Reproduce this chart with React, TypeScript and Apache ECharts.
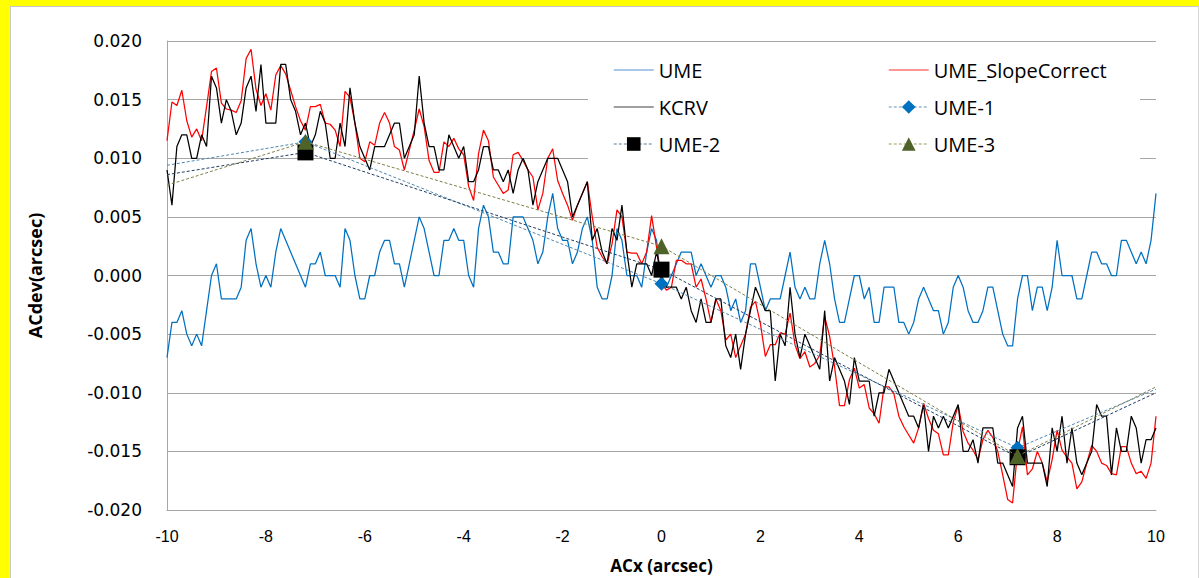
import React, { useEffect, useRef } from "react";
import * as echarts from "echarts";

// Sampling grid of the scan along ACx (arcsec)
const X_START = -10;
const X_STEP = 0.1;
const SAMPLE_COUNT = 201;

// Deviations in milli-arcsec, one value per sample
const umeMilli = [
  -7, -4, -4, -3, -5, -6, -5, -6, -3, 0, 1, -2, -2, -2, -2, -1, 3, 4, 1, -1,
  0, -1, 2, 4, 3, 2, 1, 0, -1, 1, 1, 2, 0, 0, 0, -1, 4, 3, 0, -2,
  -2, 0, 0, 2, 3, 3, 1, 1, -1, 1, 3, 5, 4, 2, 0, 0, 3, 3, 4, 3,
  3, 0, -1, 4, 6, 5, 2, 2, 1, 1, 5, 5, 5, 4, 3, 1, 2, 5, 7, 4,
  3, 3, 1, 2, 4, 5, 3, -1, -2, -2, 0, 4, 3, 0, 0, 0, -1, 2, 4, 3,
  -1, -1, 0, 1, 2, 2, 2, 0, 1, 0, -1, 0, 0, -1, -3, -2, -4, -3, 1, 1,
  -1, -3, -2, -2, -2, 0, 2, -1, -2, -1, -2, -2, 1, 3, 1, -2, -4, -4, -2, 0,
  0, -2, -1, -4, -4, -1, -1, -1, -4, -4, -5, -4, -2, -1, -2, -3, -3, -5, -4, -1,
  0, -1, -3, -4, -4, -3, -1, -1, -3, -5, -6, -6, -2, 0, 0, -3, -1, -1, -3, -1,
  3, 0, 0, 0, -2, -2, 0, 2, 2, 1, 1, 0, 0, 3, 3, 2, 1, 2, 1, 3,
  7,
];

const slopeCorrectMilli = [
  11.5, 14.8, 14.5, 15.8, 13.2, 11.8, 12.5, 11.5, 14.4, 17.4, 17.7, 14.7, 14.2, 14.1, 13.9, 14.9, 18.5, 19.3, 15.9, 14.5,
  15.5, 14.1, 17.1, 17.9, 17.2, 15.8, 14.4, 13.2, 12.4, 14.4, 14.4, 14.6, 13.0, 12.9, 12.4, 11.0, 15.7, 15.2, 13.0, 10.0,
  9.7, 11.4, 11.1, 13.0, 13.9, 13.0, 11.0, 10.7, 9.0, 10.7, 12.4, 14.2, 12.7, 9.8, 8.8, 8.8, 11.4, 11.0, 11.7, 10.8,
  10.3, 7.6, 6.4, 10.4, 12.4, 11.5, 8.4, 7.7, 7.0, 7.3, 10.3, 10.5, 9.8, 9.0, 8.4, 5.6, 7.0, 10.0, 10.8, 8.1,
  7.0, 6.0, 4.7, 6.0, 7.0, 8.0, 5.0, 2.4, 1.6, 1.0, 2.7, 5.6, 5.0, 2.0, 1.9, 1.9, 1.0, 2.0, 5.1, 2.4,
  -0.7, -1.25, -1.0, 1.3, 1.3, 1.0, 1.0, -1.0, -0.3, -2.0, -4.0, -2.0, -3.0, -5.5, -5.0, -7.0, -6.0, -5.0, -2.7, -2.2,
  -4.1, -6.9, -5.9, -5.9, -4.9, -5.0, -3.2, -5.9, -7.1, -6.5, -7.8, -7.5, -6.8, -3.5, -5.2, -7.8, -11.1, -11.1, -8.9, -7.9,
  -9.6, -9.3, -11.3, -11.8, -12.6, -9.5, -9.5, -10.1, -12.0, -12.9, -13.6, -14.3, -13.0, -10.9, -12.2, -13.2, -13.5, -15.3, -15.3, -12.5,
  -11.1, -13.3, -14.3, -14.9, -15.7, -14.0, -13.2, -13.8, -15.0, -17.0, -19.1, -19.4, -15.0, -12.9, -17.0, -16.5, -15.0, -16.0, -17.6, -15.7,
  -13.2, -14.9, -15.5, -16.0, -18.2, -17.6, -16.0, -14.5, -15.0, -16.0, -16.2, -16.9, -17.0, -14.6, -14.6, -16.0, -16.9, -16.7, -17.3, -16.0,
  -12.0,
];

const kcrvMilli = [
  9, 6, 11, 12, 12, 10, 10, 12, 11, 17, 16, 13, 15, 14, 12, 13, 16, 17, 14, 18,
  13, 13, 13, 18, 18, 15, 14, 12, 13, 11, 12, 14, 13, 10, 10, 13, 11, 16, 13, 11,
  10, 9, 11, 11, 11, 12, 13, 13, 10, 11, 12, 17, 13, 11, 11, 9, 9, 12, 11, 10,
  11, 8, 8, 9, 11, 11, 9, 9, 8, 9, 7, 9, 10, 9, 6, 8, 9, 10, 10, 10,
  9, 8, 5, 6, 7, 8, 3, 4, 2, 1, 4, 3, 6, 2, -1, 1, 1, 1, 0, 2,
  0, -1, -1, -1, -2, -1, -3, -4, -2, -4, -4, -2, -2, -6, -7, -5, -8, -5, -3, -1,
  -2, -3, -3, -9, -5, -6, -1, -5, -7, -5, -6, -7, -8, -3, -9, -7, -8, -9, -11, -7,
  -9, -9, -9, -12, -10, -10, -8, -9, -10, -11, -12, -12, -13, -11, -15, -12, -13, -12, -13, -12,
  -11, -15, -15, -14, -16, -13, -13, -13, -16, -16, -17, -18, -13, -12, -16, -16, -16, -16, -18, -13,
  -15, -12, -16, -13, -16, -17, -16, -15, -11, -12, -12, -17, -13, -15, -15, -12, -13, -16, -14, -14,
  -13,
];

// Fitted profiles: end points plus the three marked positions
const fitX = [-10, -7.2, 0, 7.2, 10];
const ume1Y = [0.0094, 0.0114, -0.0007, -0.0147, -0.0097];
const ume2Y = [0.0086, 0.0105, 0.0005, -0.0155, -0.01];
const ume3Y = [0.0077, 0.0114, 0.0025, -0.0154, -0.0095];

const yTicks = { min: -0.02, max: 0.02, step: 0.005 };

const toPairs = (milli: number[]) =>
  milli.slice(0, SAMPLE_COUNT).map((v, i) => [
    Math.round((X_START + i * X_STEP) * 10) / 10,
    v / 1000,
  ]);

const fitPairs = (ys: number[]) =>
  fitX.map((x, i) => {
    const edge = i === 0 || i === fitX.length - 1;
    return edge ? { value: [x, ys[i]], symbol: "none" } : { value: [x, ys[i]] };
  });

const TEXT_FONT = "'Open Sans', 'Liberation Sans', sans-serif";

// Legend entries; plain lines hide the marker that ECharts adds to line icons
const plainEntry = (name: string, color: string) => ({
  name,
  itemStyle: { opacity: 0 },
  lineStyle: { color, width: 1.5 },
});
const markedEntry = (name: string, lineColor: string) => ({
  name,
  lineStyle: { color: lineColor, width: 1.5, type: [3, 2] },
});

export default function App() {
  const ref = useRef<HTMLDivElement>(null);

  useEffect(() => {
    document.body.style.margin = "0";
    if (!ref.current) return;
    const chart = echarts.init(ref.current, undefined, { renderer: "svg" });

    const legendText = {
      fontFamily: TEXT_FONT,
      fontSize: 20,
      color: "#000",
      lineHeight: 22,
    };
    const legendBase = {
      orient: "vertical",
      top: 59,
      padding: 0,
      itemWidth: 40,
      itemHeight: 17,
      itemGap: 15,
      textStyle: legendText,
    };

    chart.setOption({
      animation: false,
      backgroundColor: "transparent",
      grid: {
        left: 167,
        top: 41,
        width: 989,
        height: 469,
        containLabel: false,
        outerBoundsMode: "none",
      },
      graphic: [
        {
          type: "rect",
          z: 1,
          shape: { x: 588, y: 47, width: 552, height: 162 },
          style: { fill: "#ffffff" },
          silent: true,
        },
      ],
      legend: [
        {
          ...legendBase,
          left: 613,
          data: [
            plainEntry("UME", "#8db4e2"),
            plainEntry("KCRV", "#7f7f7f"),
            markedEntry("UME-2", "#8fa8c0"),
          ],
        },
        {
          ...legendBase,
          left: 888,
          data: [
            plainEntry("UME_SlopeCorrect", "#ff7373"),
            markedEntry("UME-1", "#9cb8cc"),
            markedEntry("UME-3", "#bdbd94"),
          ],
        },
      ],
      xAxis: {
        type: "value",
        min: -10,
        max: 10,
        interval: 2,
        name: "ACx (arcsec)",
        nameLocation: "middle",
        nameGap: 46,
        nameTextStyle: {
          fontFamily: TEXT_FONT,
          fontWeight: "bold",
          fontSize: 17,
          lineHeight: 18,
          color: "#000",
        },
        axisLine: { show: true, onZero: false, lineStyle: { color: "#a6a6a6", width: 1 } },
        axisTick: { show: false },
        splitLine: { show: false },
        axisLabel: {
          margin: 18,
          fontFamily: "'Liberation Sans Narrow', 'Liberation Sans', sans-serif",
          fontSize: 16,
          color: "#000",
        },
      },
      yAxis: {
        type: "value",
        min: yTicks.min,
        max: yTicks.max,
        interval: yTicks.step,
        name: "ACdev(arcsec)",
        nameLocation: "middle",
        nameGap: 123,
        nameRotate: 90,
        nameTextStyle: {
          fontFamily: TEXT_FONT,
          fontWeight: "bold",
          fontSize: 18,
          color: "#000",
        },
        axisLine: { show: true, onZero: false, lineStyle: { color: "#a6a6a6", width: 1 } },
        axisTick: { show: false },
        splitLine: { show: true, lineStyle: { color: "#a6a6a6", width: 1 } },
        axisLabel: {
          margin: 25,
          fontFamily: "'DejaVu Sans', sans-serif",
          fontSize: 17,
          color: "#000",
          formatter: (v: number) => v.toFixed(3),
        },
      },
      series: [
        {
          name: "UME",
          type: "line",
          data: toPairs(umeMilli),
          symbol: "none",
          lineStyle: { color: "#0070C0", width: 1.25 },
          itemStyle: { color: "#0070C0" },
          z: 2,
        },
        {
          name: "UME_SlopeCorrect",
          type: "line",
          data: toPairs(slopeCorrectMilli),
          symbol: "none",
          lineStyle: { color: "#FF0000", width: 1.25 },
          itemStyle: { color: "#FF0000" },
          z: 3,
        },
        {
          name: "KCRV",
          type: "line",
          data: toPairs(kcrvMilli),
          symbol: "none",
          lineStyle: { color: "#000000", width: 1.25 },
          itemStyle: { color: "#000000" },
          z: 4,
        },
        {
          name: "UME-1",
          type: "line",
          data: fitPairs(ume1Y),
          symbol: "diamond",
          symbolSize: 14,
          lineStyle: { color: "#4f86ad", width: 1, type: [3, 2] },
          itemStyle: { color: "#0070C0" },
          z: 5,
        },
        {
          name: "UME-2",
          type: "line",
          data: fitPairs(ume2Y),
          symbol: "rect",
          symbolSize: 16,
          lineStyle: { color: "#1f3d63", width: 1, type: [3, 2] },
          itemStyle: { color: "#000000" },
          z: 6,
        },
        {
          name: "UME-3",
          type: "line",
          data: fitPairs(ume3Y),
          symbol: "triangle",
          symbolSize: 16,
          lineStyle: { color: "#7f7f48", width: 1, type: [3, 2] },
          itemStyle: { color: "#4F6228" },
          z: 7,
        },
      ],
    });

    return () => chart.dispose();
  }, []);

  return (
    <div
      style={{
        position: "fixed",
        left: 0,
        top: 0,
        width: 1199,
        height: 578,
        background: "#ffff00",
        overflow: "hidden",
      }}
    >
      <div
        style={{
          position: "absolute",
          left: 10,
          top: 6,
          right: 0,
          bottom: -10,
          background: "#ffffff",
          borderLeft: "1px solid #c8c8c8",
          borderTop: "1px solid #c8c8c8",
          borderRight: "1px solid #d9d9d9",
        }}
      />
      <div
        ref={ref}
        style={{ position: "absolute", left: 0, top: 0, width: 1199, height: 578 }}
      />
    </div>
  );
}
